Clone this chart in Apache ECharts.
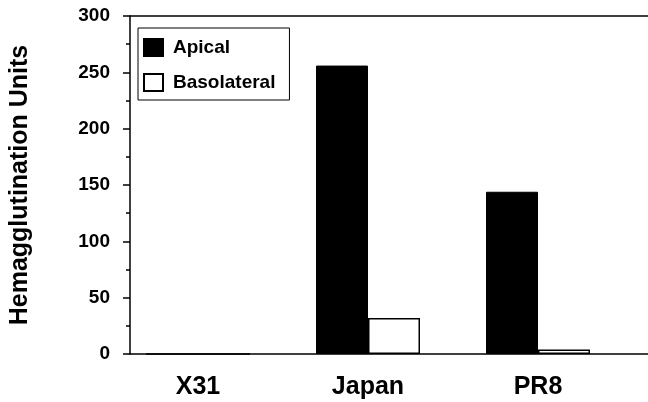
<!DOCTYPE html>
<html>
<head>
<meta charset="utf-8">
<script src="https://cdn.jsdelivr.net/npm/echarts@6/dist/echarts.min.js"></script>
<style>
html,body{margin:0;padding:0;background:#fff;}
#chart{width:648px;height:402px;}
</style>
</head>
<body>
<div id="chart"></div>
<script>
var categories = ['X31', 'Japan', 'PR8'];
var apical = [0, 256, 144];
var basolateral = [0, 32, 4];
var yMin = 0, yMax = 300, yStep = 50;
var yTitle = 'Hemagglutination Units';

var FONT = '"Liberation Sans", Arial, Helvetica, sans-serif';
var chart = echarts.init(document.getElementById('chart'), null, {renderer: 'canvas'});
chart.setOption({
  animation: false,
  backgroundColor: '#fff',
  grid: [
    {left: 113, right: 25, top: 16, bottom: 48},
    {left: 125, right: 0, top: 16, bottom: 48}
  ],
  legend: {
    left: 138, top: 28,
    orient: 'vertical',
    itemWidth: 19, itemHeight: 17, itemGap: 16,
    padding: [10, 14, 8, 5],
    borderColor: '#000', borderWidth: 1,
    icon: 'rect',
    textStyle: {fontFamily: FONT, fontWeight: 'bold', fontSize: 19, color: '#000', padding: [0, 0, 0, 5]},
    data: ['Apical', 'Basolateral']
  },
  xAxis: [
    {
      type: 'category', gridIndex: 0, data: categories,
      axisLine: {show: false}, axisTick: {show: false},
      axisLabel: {fontFamily: FONT, fontWeight: 'bold', fontSize: 25, color: '#000', margin: 21}
    },
    {
      type: 'value', gridIndex: 1, min: 0, max: 1, position: 'bottom',
      axisLine: {show: true, lineStyle: {color: '#000', width: 1.5}},
      axisTick: {show: false}, axisLabel: {show: false}, splitLine: {show: false}
    },
    {
      type: 'value', gridIndex: 1, min: 0, max: 1, position: 'top',
      axisLine: {show: true, onZero: false, lineStyle: {color: '#000', width: 1.5}},
      axisTick: {show: false}, axisLabel: {show: false}, splitLine: {show: false}
    }
  ],
  yAxis: [
    {
      type: 'value', gridIndex: 0, min: yMin, max: yMax, interval: yStep, show: false
    },
    {
      type: 'value', gridIndex: 1, min: yMin, max: yMax, interval: yStep,
      name: yTitle, nameLocation: 'middle', nameGap: 97, nameRotate: 90,
      nameTextStyle: {fontFamily: FONT, fontWeight: 'bold', fontSize: 25, color: '#000'},
      axisLine: {show: true, lineStyle: {color: '#000', width: 1.5}},
      axisTick: {show: true, length: 7, lineStyle: {color: '#000', width: 1.5}},
      minorTick: {show: true, splitNumber: 2, length: 4, lineStyle: {color: '#000', width: 1.5}},
      axisLabel: {fontFamily: FONT, fontWeight: 'bold', fontSize: 19, color: '#000', margin: 20},
      splitLine: {show: false}
    }
  ],
  series: [
    {
      name: 'Apical', type: 'bar', xAxisIndex: 0, yAxisIndex: 0,
      data: apical, barWidth: 52, barGap: '0%',
      itemStyle: {color: '#000', borderColor: '#000', borderWidth: 1}
    },
    {
      name: 'Basolateral', type: 'bar', xAxisIndex: 0, yAxisIndex: 0,
      data: basolateral, barWidth: 52, barGap: '0%',
      itemStyle: {color: '#fff', borderColor: '#000', borderWidth: 1.5}
    }
  ]
});
</script>
</body>
</html>
